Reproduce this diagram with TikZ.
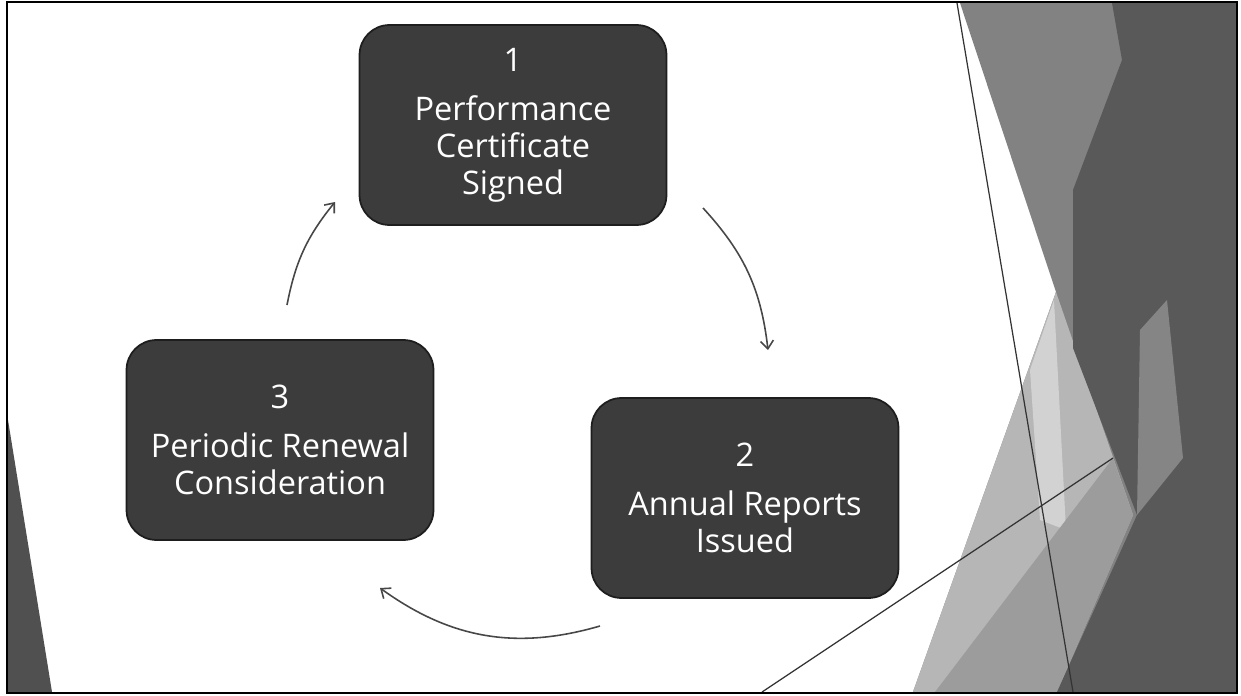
\documentclass[tikz,border=0pt]{standalone}
\usepackage{fontspec}
\setmainfont{Open Sans}
\usetikzlibrary{positioning, arrows.meta, calc}

\definecolor{boxgray}{HTML}{3C3C3C}
\definecolor{boxedge}{HTML}{1E1E1E}
\definecolor{arrowgray}{HTML}{474747}
\definecolor{facetdark}{HTML}{595959}
\definecolor{facetstrip}{HTML}{858585}
\definecolor{facetmid}{HTML}{828282}
\definecolor{facetlight}{HTML}{B6B6B6}
\definecolor{facetpale}{HTML}{D2D2D2}
\definecolor{facetlow}{HTML}{9C9C9C}
\definecolor{linegray}{HTML}{333333}

\begin{document}
\begin{tikzpicture}[x=0.02cm, y=-0.02cm,
    stagebox/.style={draw=boxedge, fill=boxgray, line width=1pt, rounded corners=0.6cm,
      minimum width=6.14cm, minimum height=4cm, align=center, text=white,
      font=\fontsize{18.5}{21}\selectfont},
    cyclearrow/.style={draw=arrowgray, line width=0.9pt, -{Straight Barb[length=1.6mm, width=2.6mm]}},
    facetline/.style={draw=linegray, line width=0.7pt}]

    % Page size
    \useasboundingbox (0,0) rectangle (1241,696);
    \fill[white] (0,0) rectangle (1241,696);

    % Facets on the right
    \fill[facetmid] (960,3) -- (1236,3) -- (1236,692) -- (913,692) -- (1056,292) -- cycle;
    \fill[facetlight] (1056,292) -- (1133,515) -- (1057,692) -- (913,692) -- cycle;
    \fill[facetpale] (1054,300) -- (1066,530) -- (1040,520) -- (1030,370) -- cycle;
    \fill[facetlow] (935,692) -- (1113,458) -- (1133,515) -- (1057,692) -- cycle;
    \fill[facetdark] (1112,3) -- (1236,3) -- (1236,692) -- (1057,692) -- (1137,515)
      -- (1073,348) -- (1073,190) -- (1122,60) -- cycle;
    \fill[facetstrip] (1140,330) -- (1167,300) -- (1183,458) -- (1137,515) -- cycle;

    % Facet on the left
    \fill[facetdark!90!black] (8,420) -- (52,692) -- (8,692) -- cycle;

    % Thin lines
    \coordinate (lnAtop) at (957,3);
    \coordinate (lnAbot) at (1073,692);
    \coordinate (lnBbot) at (762,692);
    \coordinate (lnBtop) at (1113,458);
    \draw[facetline] (lnAtop) -- (lnAbot);
    \draw[facetline] (lnBbot) -- (lnBtop);

    % Frame
    \draw[line width=1.5pt] (7,2) rectangle (1237,693);

    % The three stages
    \node[stagebox] (perf) at (513,125) {1\\[7pt] Performance\\Certificate\\Signed};
    \node[stagebox] (annual) at (745,498) {2\\[7pt] Annual Reports\\Issued};
    \node[stagebox] (renew) at (280,440) {3\\[7pt] Periodic Renewal\\Consideration};

    % Arrows of the cycle
    \coordinate (perfOut) at (703,208);
    \coordinate (annualIn) at (768,350);
    \coordinate (annualOut) at (600,626);
    \coordinate (renewIn) at (380,588);
    \coordinate (renewOut) at (287,305);
    \coordinate (perfIn) at (335,202);
    \draw[cyclearrow] (perfOut) to[bend left=18] (annualIn);
    \draw[cyclearrow] (annualOut) to[bend left=26] (renewIn);
    \draw[cyclearrow] (renewOut) to[bend left=14] (perfIn);

\end{tikzpicture}
\end{document}
